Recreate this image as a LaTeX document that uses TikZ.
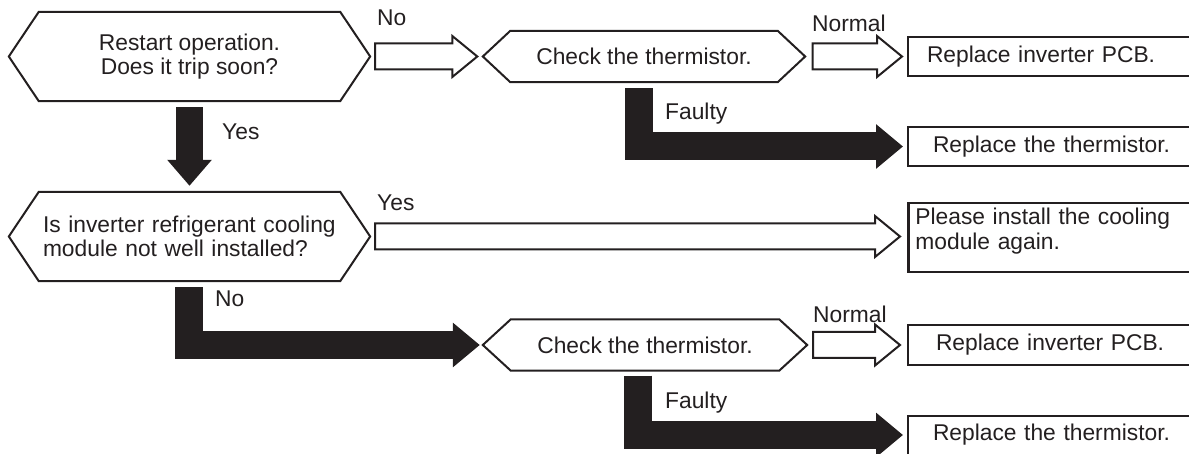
\documentclass[tikz,border=0pt]{standalone}
\usepackage{fontspec}
\setmainfont{Liberation Sans}
\usetikzlibrary{arrows.meta,calc}

\definecolor{ink}{RGB}{35,31,32}

\begin{document}
\begin{tikzpicture}[x=1pt,y=-1pt]
\tikzset{
  txt/.style={font=\fontsize{22.8}{24.5}\selectfont,text=ink},
  hexnode/.style={txt,inner sep=0pt,minimum height=89pt},
  checknode/.style={txt,inner sep=0pt,minimum height=51pt,minimum width=267pt},
  resultbox/.style={txt,draw=ink,line width=2pt,anchor=west,minimum height=39pt,text width=300pt,align=left},
  answer/.style={txt,anchor=west,inner sep=0pt},
  hexframe/.style={draw=ink,line width=2pt,line join=miter},
  hollow/.style={draw=ink,fill=white,line width=2pt,line join=miter,
    to path={let \p1=(\tikztostart),\p2=(\tikztotarget) in
      (\x1,\y1+13pt) -- (\x2-25pt,\y1+13pt) -- (\x2-25pt,\y1+20.5pt) -- (\x2,\y1)
      -- (\x2-25pt,\y1-20.5pt) -- (\x2-25pt,\y1-13pt) -- (\x1,\y1-13pt) -- cycle}},
  fatarrow/.style={draw=ink,line width=28pt,-{Triangle[length=27pt,width=43pt]}}
}
\useasboundingbox (0,0) rectangle (1189,454);
\clip (0,0) rectangle (1189,454);

% questions and checks
\node[hexnode,minimum width=301pt,align=center] (q1) at (189.5,56.5) {Restart operation.\\Does it trip soon?};
\node[checknode] (c1) at (644,56.5) {Check the thermistor.};
\node[hexnode,minimum width=301pt,text width=293pt,inner xsep=4pt,align=left] (q2) at (189.5,236.5) {Is inverter refrigerant cooling\\module not well installed?};
\node[checknode,minimum width=268pt] (c2) at (645,345) {Check the thermistor.};
\foreach \n/\d in {q1/30,q2/30,c1/27.5,c2/28}
  \draw[hexframe] (\n.north west) -- (\n.north east) -- ([xshift=\d pt]\n.east) -- (\n.south east)
    -- (\n.south west) -- ([xshift=-\d pt]\n.west) -- cycle;

% results
\node[resultbox,inner xsep=19pt] (r1) at (907,56.5) {Replace inverter PCB.};
\node[resultbox,inner xsep=25pt] (r2) at (907,146.5) {Replace the thermistor.};
\node[resultbox,inner xsep=7pt,line width=2.8pt,minimum height=0pt,inner ysep=4pt,text height=18pt,text depth=43pt] (r3) at (907,237.5) {Please install the cooling\\module again.};
\node[resultbox,inner xsep=28pt] (r4) at (907,345) {Replace inverter PCB.};
\node[resultbox,inner xsep=25pt] (r5) at (907,435) {Replace the thermistor.};

% labels
\node[answer] (l_no1) at (377,18) {No};
\node[answer] (l_normal1) at (812,23) {Normal};
\node[answer] (l_yes1) at (222,132) {Yes};
\node[answer] (l_faulty1) at (665,114) {Faulty};
\node[answer] (l_yes2) at (377,203) {Yes};
\node[answer] (l_no2) at (215,299) {No};
\node[answer] (l_normal2) at (813,314) {Normal};
\node[answer] (l_faulty2) at (665,403) {Faulty};

% arrows
\draw[hollow] ([xshift=35pt]q1.east) to ([xshift=-33pt]c1.west);
\draw[hollow] ([xshift=35pt]c1.east) to ([xshift=-5pt]r1.west);
\draw[hollow] ([xshift=35pt]q2.east) to ([xshift=-7pt]r3.west);
\draw[hollow] ([xshift=34pt]c2.east) to ([xshift=-7pt]r4.west);
\draw[fatarrow,line width=27pt,-{Triangle[length=26pt,width=43pt]}] ([yshift=-6pt]q1.south) -- ([yshift=6pt]q2.north);
\draw[fatarrow] ([xshift=-5.5pt,yshift=-6pt]c1.south) |- ([xshift=-4pt]r2.west);
\draw[fatarrow] ([xshift=-0.5pt,yshift=-6pt]q2.south) |- ([xshift=-31pt]c2.west);
\draw[fatarrow] ([xshift=-7pt,yshift=-5pt]c2.south) |- ([xshift=-4pt]r5.west);
\end{tikzpicture}
\end{document}
